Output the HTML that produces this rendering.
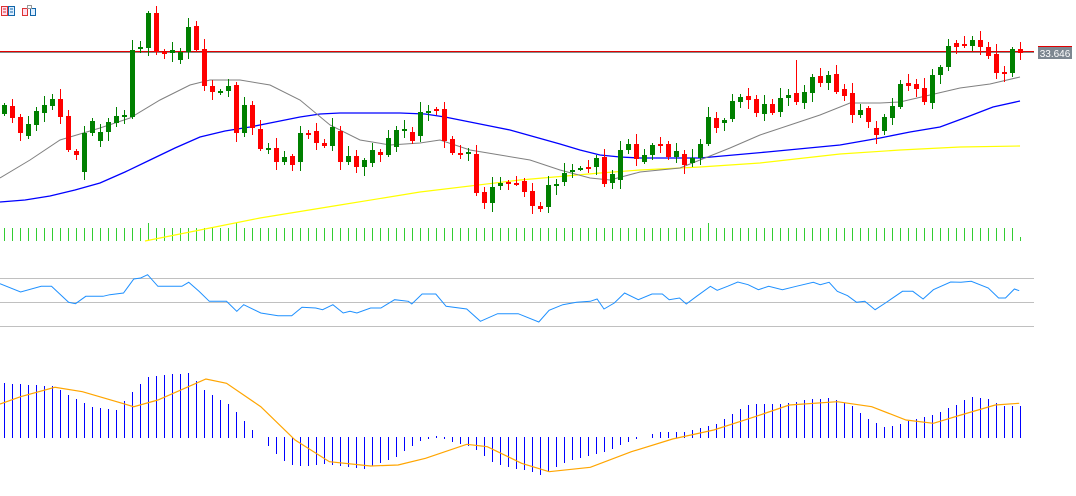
<!DOCTYPE html>
<html><head><meta charset="utf-8">
<style>
html,body{margin:0;padding:0;background:#fff;width:1076px;height:496px;overflow:hidden}
svg{display:block}
text{font-family:"Liberation Sans",sans-serif}
</style></head>
<body>
<svg id="s" width="1076" height="496" xmlns="http://www.w3.org/2000/svg" shape-rendering="crispEdges">
<rect x="1.5" y="6.5" width="6" height="9" fill="#fde" stroke="#d33"/>
<rect x="8.5" y="6.5" width="6" height="9" fill="#def" stroke="#16a"/>
<line x1="3" y1="9" x2="6" y2="9" stroke="#d33"/><line x1="3" y1="12" x2="6" y2="12" stroke="#d33"/>
<line x1="10" y1="9" x2="13" y2="9" stroke="#16a"/><line x1="10" y1="12" x2="13" y2="12" stroke="#16a"/>
<rect x="22.5" y="8.5" width="5" height="7" fill="#fde" stroke="#d33"/>
<rect x="30.5" y="8.5" width="5" height="7" fill="#def" stroke="#16a"/>
<rect x="27.5" y="5.5" width="4" height="3" fill="#fff" stroke="#999"/>
<line x1="0" y1="51.5" x2="1034" y2="51.5" stroke="#e00000"/>
<line x1="0" y1="52.5" x2="1034" y2="52.5" stroke="#8a8a8a"/>
<line x1="1038" y1="46.5" x2="1072" y2="46.5" stroke="#e00000"/>
<rect x="1038" y="47" width="34" height="12" fill="#7d8791"/>
<text x="1055" y="57" font-size="10" fill="#fff" text-anchor="middle">33.646</text>
<line x1="0" y1="278.5" x2="1034" y2="278.5" stroke="#c0c0c0"/>
<line x1="0" y1="302.5" x2="1034" y2="302.5" stroke="#c0c0c0"/>
<line x1="0" y1="326.5" x2="1034" y2="326.5" stroke="#c0c0c0"/>
<g id="g"></g>
</svg>
<script>
var C=[["g",105,114],["r",106,118],["r",117,133],["g",124,136],["g",111,125],["g",105,113],["g",99,106],["r",99,117],["r",116,150],["r",151,155],["g",133,172],["g",121,133],["g",132,141],["g",122,132],["g",116,123],["g",115,117],["g",50,117],["g",47,48],["g",13,48],["r",13,52],["r",52,53],["g",50,53],["g",52,60],["g",27,52],["r",26,50],["r",49,86],["r",86,92],["g",91,92],["g",86,91],["r",85,133],["g",105,133],["r",105,128],["r",129,149],["g",148,149],["r",148,162],["g",157,162],["r",156,165],["g",133,162],["r",133,135],["r",131,143],["r",143,146],["g",127,146],["r",131,162],["g",156,162],["r",156,167],["g",160,167],["g",150,163],["r",152,155],["g",138,155],["g",130,147],["g",129,130],["r",132,141],["g",112,136],["g",111,112],["r",109,111],["r",109,141],["r",139,153],["r",153,154],["g",152,153],["r",154,193],["r",192,203],["g",187,203],["g",183,186],["r",182,183],["r",183,184],["r",181,192],["r",191,206],["r",206,209],["g",185,207],["g",184,186],["g",173,182],["g",170,171],["g",168,169],["r",167,168],["g",158,167],["r",157,184],["g",174,183],["g",150,180],["g",144,150],["r",144,159],["g",155,162],["g",145,155],["r",144,145],["r",144,157],["g",151,157],["r",154,165],["g",158,163],["g",144,158],["g",117,144],["r",118,128],["g",120,123],["g",101,119],["g",97,102],["r",96,100],["r",99,113],["g",104,114],["r",104,113],["g",98,112],["g",95,98],["r",93,102],["g",92,103],["g",77,93],["r",76,83],["g",75,83],["r",74,92],["r",89,96],["r",93,115],["g",110,115],["r",108,122],["r",128,135],["g",117,131],["g",106,118],["g",84,107],["r",83,86],["r",84,89],["r",88,102],["g",75,103],["g",67,75],["g",46,67],["r",43,47],["r",44,46],["g",40,46],["r",40,47],["r",47,56],["r",54,73],["r",72,73],["g",49,73],["r",49,53]];
var h='';
function pl(pts,col,w){return '<polyline fill="none" stroke="'+col+'" stroke-width="'+(w||1)+'" shape-rendering="auto" points="'+pts.map(p=>p[0]+','+p[1]).join(' ')+'"/>';}
function interp(k,x){for(var i=0;i<k.length-1;i++){if(x<=k[i+1][0]){var t=(x-k[i][0])/(k[i+1][0]-k[i][0]);return k[i][1]+t*(k[i+1][1]-k[i][1]);}}return k[k.length-1][1];}
for(var i=0;i<128;i++){var x=4+8*i;var vh=10+((i*7+3)%7);if(i==18||i==29||i==88)vh=18;if(i==127)vh=4;h+='<rect x="'+x+'" y="'+(241-vh)+'" width="1" height="'+vh+'" fill="#32cd32"/>';}
h+=pl([[145,241],[200,230],[260,218],[340,205],[420,192],[520,180],[600,173],[640,170],[700,167],[760,163],[840,154],[900,150],[960,147],[1020,146]],'#ffff00',1.2);
h+=pl([[0,202],[25,200],[50,196],[75,190],[100,183],[125,172],[150,160],[175,148],[200,137],[225,131],[250,127],[275,122],[300,117],[320,114],[340,113],[400,113],[425,114],[445,117],[465,121],[490,126],[510,130],[535,137],[560,144],[580,150],[600,155],[620,157],[640,158],[700,158],[767,152],[840,145],[880,138],[910,132],[940,127],[967,117],[993,107],[1020,101]],'#0000ff',1.3);
h+=pl([[0,178],[30,160],[60,140],[100,128],[130,118],[160,100],[190,85],[210,80],[240,80],[270,85],[300,100],[330,125],[360,140],[390,145],[420,143],[440,140],[470,150],[500,155],[530,160],[560,170],[590,178],[610,180],[640,172],[680,168],[700,160],[730,148],[760,135],[790,125],[820,115],[850,103],[880,103],[900,102],[930,95],[960,88],[990,84],[1020,77]],'#808080',1);
C.forEach(function(c,i){var x=4+8*i,col=c[0]=='g'?'#008000':'#ff0000';var hi=c[1]-(2+(i*5)%9),lo=c[2]+(2+(i*3)%8);if(i==99)hi=60;
h+='<rect x="'+x+'" y="'+hi+'" width="1" height="'+(lo-hi)+'" fill="'+col+'"/>';
var bh=Math.max(2,c[2]-c[1]);h+='<rect x="'+(x-2)+'" y="'+c[1]+'" width="5" height="'+bh+'" fill="'+col+'"/>';});
var R=[[0,72],[30,97],[60,80],[75,80],[100,128],[110,132],[125,110],[150,110],[160,105],[180,100],[195,58],[205,55],[215,45],[230,80],[265,80],[275,68],[290,95],[305,125],[330,125],[345,155],[355,135],[380,160],[405,168],[425,168],[440,143],[460,145],[470,150],[485,135],[500,160],[510,155],[520,160],[540,145],[555,145],[575,120],[595,125],[600,133],[615,103],[635,103],[650,140],[680,148],[700,185],[725,162],[755,162],[785,187],[800,152],[820,135],[840,128],[860,125],[870,118],[880,148],[895,130],[910,100],[930,120],[950,103],[965,103],[975,120],[990,115],[1000,133],[1015,110],[1035,80],[1045,92],[1060,80],[1075,67],[1090,75],[1105,90],[1120,80],[1140,90],[1160,80],[1185,68],[1195,75],[1208,68],[1220,95],[1235,108],[1248,128],[1260,125],[1275,150],[1290,130],[1315,95],[1330,95],[1345,118],[1360,90],[1385,67],[1400,68],[1415,65],[1440,85],[1455,115],[1465,115],[1478,88],[1485,93]];
h+=pl(R.map(p=>[(p[0]/1.457).toFixed(1),(278+(p[1]-55)/3).toFixed(1)]),'#1e90ff',1);
var M=[[6,372],[76,380],[100,408],[135,443],[170,453],[193,395],[217,350],[275,342],[300,398],[333,435],[368,513],[380,538],[410,600],[430,622],[470,615],[530,628],[575,595],[610,545],[625,537],[636,528],[660,550],[690,565],[720,615],[775,638],[790,648],[810,623],[835,600],[880,578],[905,555],[930,535],[960,517],[1000,517],[1040,497],[1070,460],[1090,435],[1140,433],[1180,420],[1210,415],[1240,440],[1265,480],[1290,505],[1320,487],[1360,465],[1395,435],[1410,413],[1440,418],[1460,440],[1485,440]];
for(var i=0;i<128;i++){var zx=6+11.65*i;var zy=interp(M,zx);var y=438+(zy-536)/3;var y0=Math.min(y,437),y1=Math.max(y,438);if(Math.abs(y-437)<1)continue;h+='<rect x="'+(4+8*i)+'" y="'+y0.toFixed(0)+'" width="1" height="'+(y1-y0).toFixed(0)+'" fill="#0000ff"/>';}
var S=[[0,432],[30,410],[80,382],[120,395],[195,440],[230,420],[300,357],[330,370],[380,440],[430,540],[480,605],[540,618],[580,615],[620,595],[680,553],[710,560],[760,610],[800,635],[860,622],[920,575],[980,537],[1040,510],[1100,470],[1150,435],[1220,425],[1270,440],[1320,480],[1360,490],[1400,465],[1450,435],[1485,430]];
h+=pl(S.map(p=>[(p[0]/1.457).toFixed(1),(260+p[1]/3).toFixed(1)]),'#ffa500',1.2);
document.getElementById('g').innerHTML=h;
</script>
</body></html>
